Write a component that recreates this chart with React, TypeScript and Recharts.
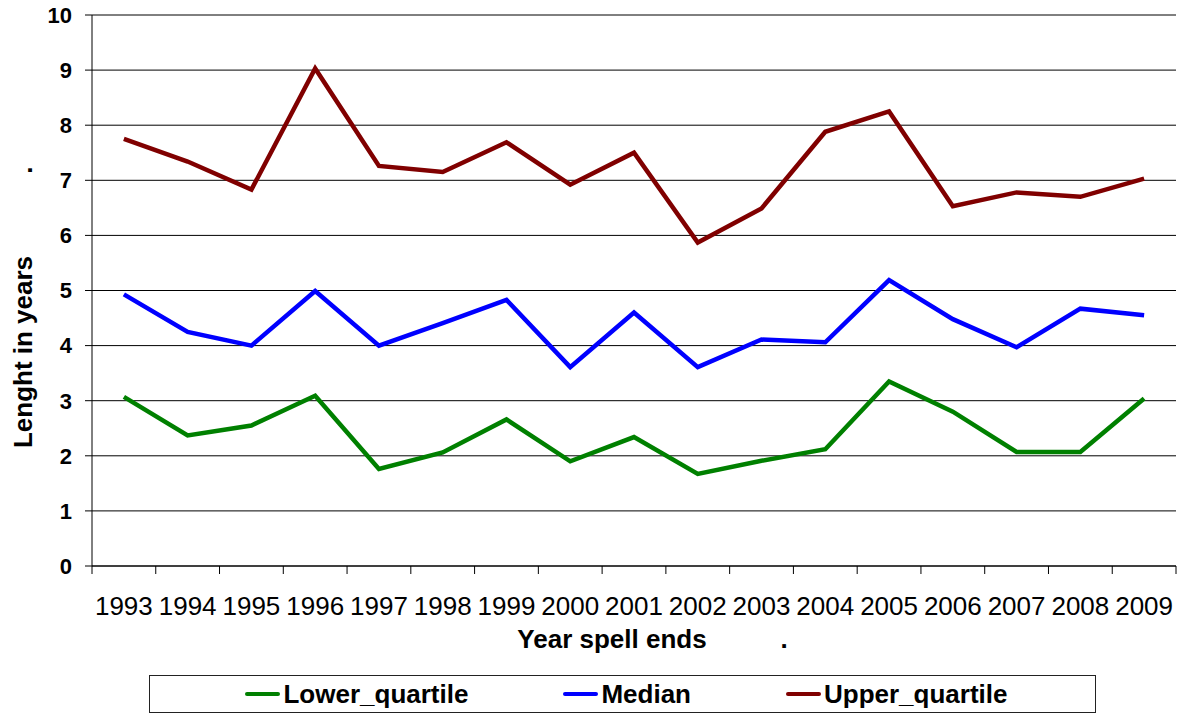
import {
  LineChart,
  Line,
  XAxis,
  YAxis,
  CartesianGrid,
  Legend,
} from "recharts";

const years = [
  "1993", "1994", "1995", "1996", "1997", "1998", "1999", "2000", "2001",
  "2002", "2003", "2004", "2005", "2006", "2007", "2008", "2009",
];
const lowerQuartile = [
  3.07, 2.37, 2.55, 3.09, 1.76, 2.06, 2.66, 1.9, 2.34, 1.67, 1.91, 2.12, 3.35,
  2.8, 2.07, 2.07, 3.04,
];
const median = [
  4.93, 4.25, 4.0, 4.99, 4.0, 4.41, 4.83, 3.61, 4.6, 3.61, 4.11, 4.06, 5.19,
  4.48, 3.97, 4.67, 4.55,
];
const upperQuartile = [
  7.75, 7.34, 6.83, 9.03, 7.26, 7.15, 7.69, 6.92, 7.5, 5.87, 6.49, 7.88, 8.25,
  6.53, 6.78, 6.7, 7.03,
];
const yTicks = [0, 1, 2, 3, 4, 5, 6, 7, 8, 9, 10];

const data = years.map((year, i) => ({
  year,
  lower: lowerQuartile[i],
  median: median[i],
  upper: upperQuartile[i],
}));

const series = [
  { key: "lower", name: "Lower_quartile", color: "#008000" },
  { key: "median", name: "Median", color: "#0000FF" },
  { key: "upper", name: "Upper_quartile", color: "#800000" },
];

const FONT = '"Liberation Sans", Arial, sans-serif';
const W = 1186;
const H = 714;
const PLOT_LEFT = 92;
const PLOT_RIGHT = 1176;
const PLOT_W = PLOT_RIGHT - PLOT_LEFT;
const STEP = PLOT_W / years.length;

// Excel-style category axis: tick marks sit between the categories
const YearTick = (props: any) => {
  const { x, y, payload, index } = props;
  return (
    <g>
      <line x1={x - STEP / 2} x2={x - STEP / 2} y1={y} y2={y + 8} stroke="#000" />
      {index === years.length - 1 && (
        <line x1={x + STEP / 2} x2={x + STEP / 2} y1={y} y2={y + 8} stroke="#000" />
      )}
      <text
        x={x}
        y={y + 49}
        textAnchor="middle"
        fontSize={26}
        fontFamily={FONT}
        fill="#000"
      >
        {payload.value}
      </text>
    </g>
  );
};

const XTitle = (props: any) => {
  const { viewBox } = props;
  const cx = viewBox.x + 520;
  const by = viewBox.y + 82;
  return (
    <g fontFamily={FONT} fontWeight="bold" fontSize={26} fill="#000">
      <text x={cx} y={by} textAnchor="middle">
        Year spell ends
      </text>
      <text x={viewBox.x + 692} y={by} textAnchor="middle">
        .
      </text>
    </g>
  );
};

const YTitle = (props: any) => {
  const { viewBox } = props;
  const bx = viewBox.x + 32;
  const cy = viewBox.y + 337;
  const dotY = viewBox.y + 155;
  return (
    <g fontFamily={FONT} fontWeight="bold" fontSize={26} fill="#000">
      <text x={bx} y={cy} textAnchor="middle" transform={`rotate(-90, ${bx}, ${cy})`}>
        Lenght in years
      </text>
      <text x={bx} y={dotY} textAnchor="middle" transform={`rotate(-90, ${bx}, ${dotY})`}>
        .
      </text>
    </g>
  );
};

const LegendBox = () => (
  <div
    style={{
      boxSizing: "border-box",
      width: "100%",
      height: "100%",
      border: "1px solid #222",
      display: "flex",
      alignItems: "center",
      justifyContent: "center",
      gap: 95,
      fontFamily: FONT,
      fontWeight: "bold",
      fontSize: 26,
      color: "#000",
      paddingLeft: 8,
    }}
  >
    {series.map((s) => (
      <div key={s.key} style={{ display: "flex", alignItems: "center" }}>
        <span
          style={{
            display: "inline-block",
            width: 35,
            height: 4,
            borderRadius: 2,
            background: s.color,
            marginRight: 3,
          }}
        />
        <span>{s.name}</span>
      </div>
    ))}
  </div>
);

export default function App() {
  return (
    <div style={{ position: "absolute", left: 0, top: 0, background: "#fff" }}>
      <LineChart
        width={W}
        height={H}
        data={data}
        margin={{ top: 15, right: W - PLOT_RIGHT, left: 0, bottom: 0 }}
      >
        <CartesianGrid vertical={false} stroke="#000" strokeWidth={1} />
        <XAxis
          dataKey="year"
          height={148}
          interval={0}
          padding={{ left: STEP / 2, right: STEP / 2 }}
          tickSize={0}
          tickMargin={0}
          tickLine={false}
          axisLine={{ stroke: "#000" }}
          tick={<YearTick />}
          label={XTitle}
        />
        <YAxis
          type="number"
          domain={[0, 10]}
          ticks={yTicks}
          interval={0}
          width={PLOT_LEFT}
          tickSize={7}
          tickMargin={13}
          tickLine={{ stroke: "#000" }}
          axisLine={{ stroke: "#000" }}
          tick={{ fill: "#000", fontSize: 22, fontWeight: "bold", fontFamily: FONT }}
          label={YTitle}
        />
        <Legend
          layout="horizontal"
          verticalAlign="middle"
          content={<LegendBox />}
          wrapperStyle={{ left: 149, top: 675, width: 947, height: 38 }}
        />
        {series.map((s) => (
          <Line
            key={s.key}
            type="linear"
            dataKey={s.key}
            name={s.name}
            stroke={s.color}
            strokeWidth={4.5}
            dot={false}
            activeDot={false}
            isAnimationActive={false}
          />
        ))}
      </LineChart>
    </div>
  );
}
